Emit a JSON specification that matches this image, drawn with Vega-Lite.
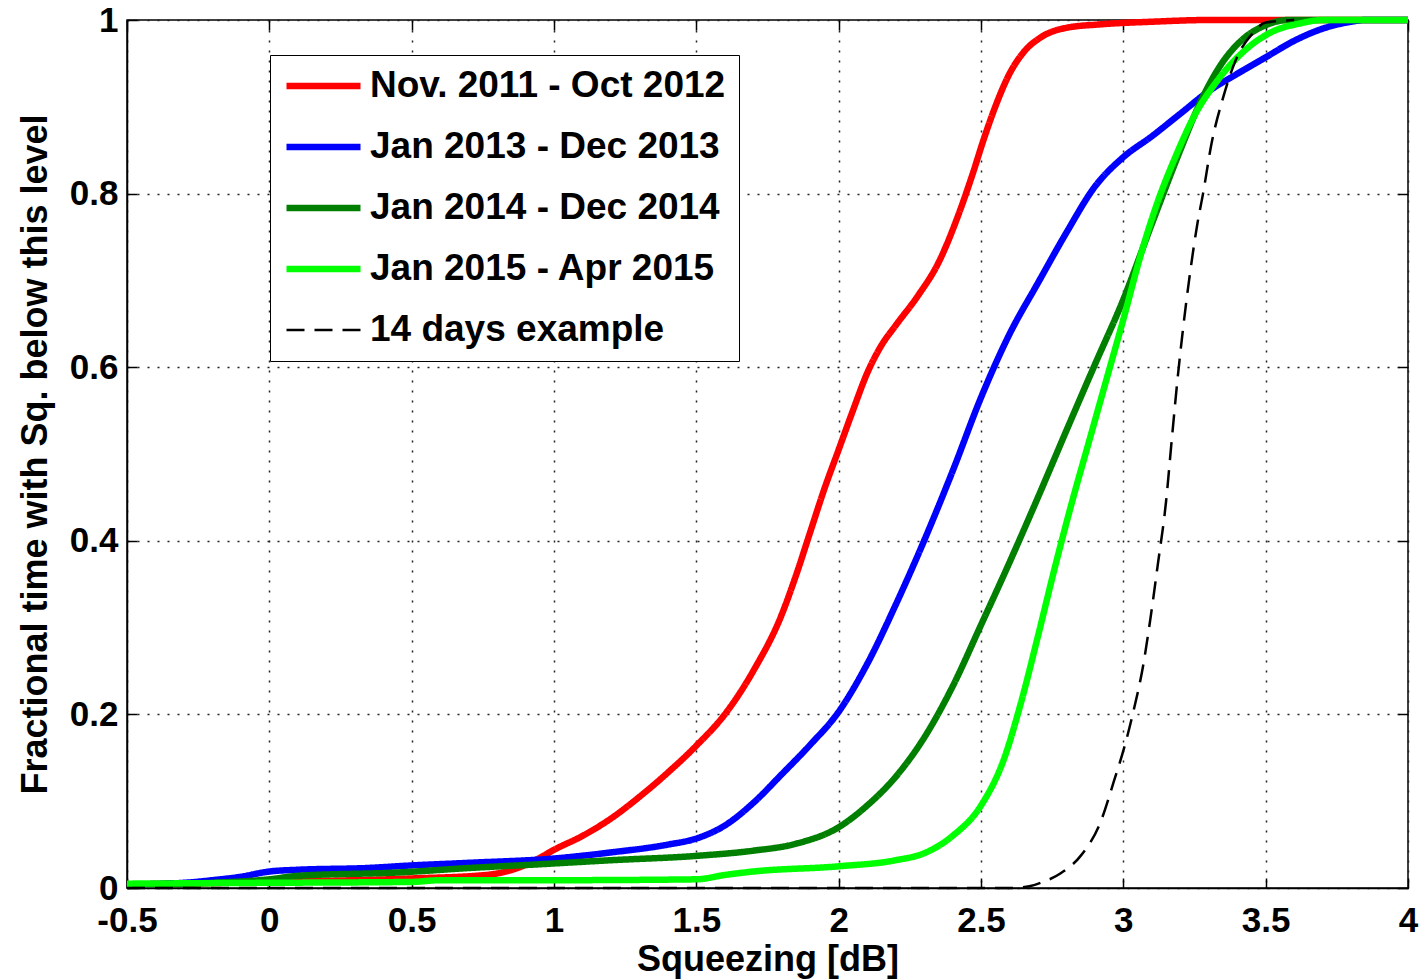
{
  "$schema": "https://vega.github.io/schema/vega-lite/v6.json",
  "width": 1281,
  "height": 868,
  "autosize": {"type": "none"},
  "padding": {"left": 127, "top": 20, "right": 18, "bottom": 92},
  "background": "white",
  "config": {
    "view": {"stroke": "black", "strokeWidth": 1.5},
    "font": "Liberation Sans",
    "axis": {
      "labelFont": "Liberation Sans",
      "labelFontSize": 35,
      "labelFontWeight": "bold",
      "labelColor": "black",
      "titleFont": "Liberation Sans",
      "titleFontSize": 36,
      "titleFontWeight": "bold",
      "titleColor": "black",
      "domainColor": "black",
      "domainWidth": 1.5,
      "tickColor": "black",
      "tickWidth": 1.5,
      "tickSize": -10,
      "gridColor": "#222222",
      "gridDash": [2, 8],
      "gridWidth": 1.5,
      "gridOpacity": 1,
      "labelFlush": false,
      "labelOverlap": false
    },
    "legend": {
      "labelFont": "Liberation Sans",
      "labelFontSize": 37,
      "labelFontWeight": "bold",
      "labelColor": "black",
      "labelLimit": 800,
      "labelOffset": 6,
      "symbolType": "stroke",
      "symbolSize": 5476,
      "clipHeight": 36,
      "strokeColor": "black",
      "fillColor": "white",
      "padding": 13,
      "rowPadding": 24
    }
  },
  "layer": [
    {
      "data": {
        "values": [
          {"s": "Nov. 2011 - Oct 2012", "x": -0.5, "y": 0.004},
          {"s": "Nov. 2011 - Oct 2012", "x": 0.0, "y": 0.007},
          {"s": "Nov. 2011 - Oct 2012", "x": 0.5, "y": 0.011},
          {"s": "Nov. 2011 - Oct 2012", "x": 0.76, "y": 0.015},
          {"s": "Nov. 2011 - Oct 2012", "x": 0.88, "y": 0.024},
          {"s": "Nov. 2011 - Oct 2012", "x": 0.946, "y": 0.034},
          {"s": "Nov. 2011 - Oct 2012", "x": 1.0, "y": 0.044},
          {"s": "Nov. 2011 - Oct 2012", "x": 1.1, "y": 0.06},
          {"s": "Nov. 2011 - Oct 2012", "x": 1.2, "y": 0.08},
          {"s": "Nov. 2011 - Oct 2012", "x": 1.3, "y": 0.105},
          {"s": "Nov. 2011 - Oct 2012", "x": 1.4, "y": 0.133},
          {"s": "Nov. 2011 - Oct 2012", "x": 1.5, "y": 0.164},
          {"s": "Nov. 2011 - Oct 2012", "x": 1.6, "y": 0.2},
          {"s": "Nov. 2011 - Oct 2012", "x": 1.7, "y": 0.25},
          {"s": "Nov. 2011 - Oct 2012", "x": 1.8, "y": 0.315},
          {"s": "Nov. 2011 - Oct 2012", "x": 1.85, "y": 0.36},
          {"s": "Nov. 2011 - Oct 2012", "x": 1.9, "y": 0.41},
          {"s": "Nov. 2011 - Oct 2012", "x": 1.95, "y": 0.46},
          {"s": "Nov. 2011 - Oct 2012", "x": 2.0, "y": 0.505},
          {"s": "Nov. 2011 - Oct 2012", "x": 2.05, "y": 0.55},
          {"s": "Nov. 2011 - Oct 2012", "x": 2.1, "y": 0.593},
          {"s": "Nov. 2011 - Oct 2012", "x": 2.15, "y": 0.625},
          {"s": "Nov. 2011 - Oct 2012", "x": 2.2, "y": 0.648},
          {"s": "Nov. 2011 - Oct 2012", "x": 2.28, "y": 0.683},
          {"s": "Nov. 2011 - Oct 2012", "x": 2.35, "y": 0.72},
          {"s": "Nov. 2011 - Oct 2012", "x": 2.42, "y": 0.775},
          {"s": "Nov. 2011 - Oct 2012", "x": 2.47, "y": 0.822},
          {"s": "Nov. 2011 - Oct 2012", "x": 2.51, "y": 0.863},
          {"s": "Nov. 2011 - Oct 2012", "x": 2.55, "y": 0.9},
          {"s": "Nov. 2011 - Oct 2012", "x": 2.6, "y": 0.938},
          {"s": "Nov. 2011 - Oct 2012", "x": 2.65, "y": 0.963},
          {"s": "Nov. 2011 - Oct 2012", "x": 2.71, "y": 0.98},
          {"s": "Nov. 2011 - Oct 2012", "x": 2.8, "y": 0.991},
          {"s": "Nov. 2011 - Oct 2012", "x": 2.92, "y": 0.995},
          {"s": "Nov. 2011 - Oct 2012", "x": 3.1, "y": 0.998},
          {"s": "Nov. 2011 - Oct 2012", "x": 3.3, "y": 1.0},
          {"s": "Nov. 2011 - Oct 2012", "x": 4.0, "y": 1.0},

          {"s": "Jan 2013 - Dec 2013", "x": -0.5, "y": 0.004},
          {"s": "Jan 2013 - Dec 2013", "x": -0.3, "y": 0.006},
          {"s": "Jan 2013 - Dec 2013", "x": -0.2, "y": 0.009},
          {"s": "Jan 2013 - Dec 2013", "x": -0.1, "y": 0.013},
          {"s": "Jan 2013 - Dec 2013", "x": 0.0, "y": 0.019},
          {"s": "Jan 2013 - Dec 2013", "x": 0.1, "y": 0.021},
          {"s": "Jan 2013 - Dec 2013", "x": 0.34, "y": 0.023},
          {"s": "Jan 2013 - Dec 2013", "x": 0.5, "y": 0.026},
          {"s": "Jan 2013 - Dec 2013", "x": 0.7, "y": 0.029},
          {"s": "Jan 2013 - Dec 2013", "x": 1.0, "y": 0.034},
          {"s": "Jan 2013 - Dec 2013", "x": 1.2, "y": 0.041},
          {"s": "Jan 2013 - Dec 2013", "x": 1.4, "y": 0.05},
          {"s": "Jan 2013 - Dec 2013", "x": 1.5, "y": 0.057},
          {"s": "Jan 2013 - Dec 2013", "x": 1.6, "y": 0.072},
          {"s": "Jan 2013 - Dec 2013", "x": 1.7, "y": 0.098},
          {"s": "Jan 2013 - Dec 2013", "x": 1.8, "y": 0.131},
          {"s": "Jan 2013 - Dec 2013", "x": 1.9, "y": 0.165},
          {"s": "Jan 2013 - Dec 2013", "x": 2.0, "y": 0.203},
          {"s": "Jan 2013 - Dec 2013", "x": 2.1, "y": 0.258},
          {"s": "Jan 2013 - Dec 2013", "x": 2.2, "y": 0.326},
          {"s": "Jan 2013 - Dec 2013", "x": 2.3, "y": 0.4},
          {"s": "Jan 2013 - Dec 2013", "x": 2.4, "y": 0.48},
          {"s": "Jan 2013 - Dec 2013", "x": 2.5, "y": 0.565},
          {"s": "Jan 2013 - Dec 2013", "x": 2.6, "y": 0.638},
          {"s": "Jan 2013 - Dec 2013", "x": 2.7, "y": 0.697},
          {"s": "Jan 2013 - Dec 2013", "x": 2.8, "y": 0.755},
          {"s": "Jan 2013 - Dec 2013", "x": 2.9, "y": 0.808},
          {"s": "Jan 2013 - Dec 2013", "x": 3.0, "y": 0.842},
          {"s": "Jan 2013 - Dec 2013", "x": 3.1, "y": 0.866},
          {"s": "Jan 2013 - Dec 2013", "x": 3.2, "y": 0.892},
          {"s": "Jan 2013 - Dec 2013", "x": 3.3, "y": 0.918},
          {"s": "Jan 2013 - Dec 2013", "x": 3.4, "y": 0.938},
          {"s": "Jan 2013 - Dec 2013", "x": 3.5, "y": 0.957},
          {"s": "Jan 2013 - Dec 2013", "x": 3.6, "y": 0.976},
          {"s": "Jan 2013 - Dec 2013", "x": 3.7, "y": 0.99},
          {"s": "Jan 2013 - Dec 2013", "x": 3.8, "y": 0.998},
          {"s": "Jan 2013 - Dec 2013", "x": 3.85, "y": 1.0},
          {"s": "Jan 2013 - Dec 2013", "x": 4.0, "y": 1.0},

          {"s": "Jan 2014 - Dec 2014", "x": -0.5, "y": 0.004},
          {"s": "Jan 2014 - Dec 2014", "x": -0.2, "y": 0.006},
          {"s": "Jan 2014 - Dec 2014", "x": 0.0, "y": 0.01},
          {"s": "Jan 2014 - Dec 2014", "x": 0.1, "y": 0.014},
          {"s": "Jan 2014 - Dec 2014", "x": 0.46, "y": 0.018},
          {"s": "Jan 2014 - Dec 2014", "x": 0.7, "y": 0.023},
          {"s": "Jan 2014 - Dec 2014", "x": 0.93, "y": 0.027},
          {"s": "Jan 2014 - Dec 2014", "x": 1.2, "y": 0.032},
          {"s": "Jan 2014 - Dec 2014", "x": 1.5, "y": 0.037},
          {"s": "Jan 2014 - Dec 2014", "x": 1.7, "y": 0.043},
          {"s": "Jan 2014 - Dec 2014", "x": 1.85, "y": 0.051},
          {"s": "Jan 2014 - Dec 2014", "x": 2.0, "y": 0.07},
          {"s": "Jan 2014 - Dec 2014", "x": 2.1, "y": 0.095},
          {"s": "Jan 2014 - Dec 2014", "x": 2.2, "y": 0.128},
          {"s": "Jan 2014 - Dec 2014", "x": 2.3, "y": 0.173},
          {"s": "Jan 2014 - Dec 2014", "x": 2.4, "y": 0.232},
          {"s": "Jan 2014 - Dec 2014", "x": 2.5, "y": 0.303},
          {"s": "Jan 2014 - Dec 2014", "x": 2.6, "y": 0.375},
          {"s": "Jan 2014 - Dec 2014", "x": 2.7, "y": 0.45},
          {"s": "Jan 2014 - Dec 2014", "x": 2.8, "y": 0.527},
          {"s": "Jan 2014 - Dec 2014", "x": 2.9, "y": 0.603},
          {"s": "Jan 2014 - Dec 2014", "x": 3.0, "y": 0.678},
          {"s": "Jan 2014 - Dec 2014", "x": 3.1, "y": 0.765},
          {"s": "Jan 2014 - Dec 2014", "x": 3.2, "y": 0.85},
          {"s": "Jan 2014 - Dec 2014", "x": 3.27, "y": 0.905},
          {"s": "Jan 2014 - Dec 2014", "x": 3.35, "y": 0.952},
          {"s": "Jan 2014 - Dec 2014", "x": 3.42, "y": 0.978},
          {"s": "Jan 2014 - Dec 2014", "x": 3.5, "y": 0.994},
          {"s": "Jan 2014 - Dec 2014", "x": 3.58, "y": 1.0},
          {"s": "Jan 2014 - Dec 2014", "x": 4.0, "y": 1.0},

          {"s": "Jan 2015 - Apr 2015", "x": -0.5, "y": 0.005},
          {"s": "Jan 2015 - Apr 2015", "x": 0.0, "y": 0.006},
          {"s": "Jan 2015 - Apr 2015", "x": 0.5, "y": 0.007},
          {"s": "Jan 2015 - Apr 2015", "x": 0.6, "y": 0.009},
          {"s": "Jan 2015 - Apr 2015", "x": 1.0, "y": 0.009},
          {"s": "Jan 2015 - Apr 2015", "x": 1.5, "y": 0.01},
          {"s": "Jan 2015 - Apr 2015", "x": 1.6, "y": 0.015},
          {"s": "Jan 2015 - Apr 2015", "x": 1.7, "y": 0.019},
          {"s": "Jan 2015 - Apr 2015", "x": 2.0, "y": 0.025},
          {"s": "Jan 2015 - Apr 2015", "x": 2.2, "y": 0.032},
          {"s": "Jan 2015 - Apr 2015", "x": 2.3, "y": 0.04},
          {"s": "Jan 2015 - Apr 2015", "x": 2.4, "y": 0.06},
          {"s": "Jan 2015 - Apr 2015", "x": 2.5, "y": 0.095},
          {"s": "Jan 2015 - Apr 2015", "x": 2.58, "y": 0.148},
          {"s": "Jan 2015 - Apr 2015", "x": 2.64, "y": 0.213},
          {"s": "Jan 2015 - Apr 2015", "x": 2.7, "y": 0.29},
          {"s": "Jan 2015 - Apr 2015", "x": 2.76, "y": 0.37},
          {"s": "Jan 2015 - Apr 2015", "x": 2.82, "y": 0.445},
          {"s": "Jan 2015 - Apr 2015", "x": 2.88, "y": 0.515},
          {"s": "Jan 2015 - Apr 2015", "x": 2.94, "y": 0.585},
          {"s": "Jan 2015 - Apr 2015", "x": 3.0, "y": 0.655},
          {"s": "Jan 2015 - Apr 2015", "x": 3.06, "y": 0.728},
          {"s": "Jan 2015 - Apr 2015", "x": 3.12, "y": 0.79},
          {"s": "Jan 2015 - Apr 2015", "x": 3.18, "y": 0.84},
          {"s": "Jan 2015 - Apr 2015", "x": 3.25, "y": 0.89},
          {"s": "Jan 2015 - Apr 2015", "x": 3.33, "y": 0.93},
          {"s": "Jan 2015 - Apr 2015", "x": 3.42, "y": 0.963},
          {"s": "Jan 2015 - Apr 2015", "x": 3.52, "y": 0.986},
          {"s": "Jan 2015 - Apr 2015", "x": 3.62, "y": 0.996},
          {"s": "Jan 2015 - Apr 2015", "x": 3.7, "y": 1.0},
          {"s": "Jan 2015 - Apr 2015", "x": 4.0, "y": 1.0},

          {"s": "14 days example", "x": -0.5, "y": 0.0},
          {"s": "14 days example", "x": 2.6, "y": 0.0},
          {"s": "14 days example", "x": 2.67, "y": 0.002},
          {"s": "14 days example", "x": 2.71, "y": 0.006},
          {"s": "14 days example", "x": 2.78, "y": 0.017},
          {"s": "14 days example", "x": 2.85, "y": 0.037},
          {"s": "14 days example", "x": 2.92, "y": 0.076},
          {"s": "14 days example", "x": 2.965, "y": 0.121},
          {"s": "14 days example", "x": 3.01, "y": 0.17},
          {"s": "14 days example", "x": 3.035, "y": 0.203},
          {"s": "14 days example", "x": 3.07, "y": 0.257},
          {"s": "14 days example", "x": 3.095, "y": 0.31},
          {"s": "14 days example", "x": 3.12, "y": 0.37},
          {"s": "14 days example", "x": 3.15, "y": 0.445},
          {"s": "14 days example", "x": 3.17, "y": 0.516},
          {"s": "14 days example", "x": 3.19, "y": 0.585},
          {"s": "14 days example", "x": 3.21, "y": 0.645},
          {"s": "14 days example", "x": 3.235, "y": 0.71},
          {"s": "14 days example", "x": 3.26, "y": 0.765},
          {"s": "14 days example", "x": 3.28, "y": 0.8},
          {"s": "14 days example", "x": 3.31, "y": 0.858},
          {"s": "14 days example", "x": 3.35, "y": 0.91},
          {"s": "14 days example", "x": 3.395, "y": 0.954},
          {"s": "14 days example", "x": 3.455, "y": 0.985},
          {"s": "14 days example", "x": 3.5, "y": 0.997},
          {"s": "14 days example", "x": 3.6, "y": 1.0}
        ]
      },
      "mark": {"type": "line", "interpolate": "monotone", "strokeCap": "butt", "strokeJoin": "round"},
      "encoding": {
        "x": {
          "field": "x",
          "type": "quantitative",
          "scale": {"domain": [-0.5, 4], "nice": false, "zero": false},
          "axis": {
            "orient": "bottom",
            "values": [-0.5, 0, 0.5, 1, 1.5, 2, 2.5, 3, 3.5, 4],
            "labelExpr": "'' + datum.value",
            "labelPadding": 25,
            "grid": true,
            "title": "Squeezing [dB]",
            "titleY": 82,
            "titleBaseline": "alphabetic"
          }
        },
        "y": {
          "field": "y",
          "type": "quantitative",
          "scale": {"domain": [0, 1], "nice": false, "zero": false},
          "axis": {
            "orient": "left",
            "values": [0, 0.2, 0.4, 0.6, 0.8, 1],
            "labelExpr": "'' + datum.value",
            "labelPadding": 19,
            "grid": true,
            "title": "Fractional time with Sq. below this level",
            "titleX": -81,
            "titleY": 434,
            "titleAngle": -90,
            "titleAlign": "center",
            "titleBaseline": "alphabetic"
          }
        },
        "color": {
          "field": "s",
          "type": "nominal",
          "scale": {
            "domain": ["Nov. 2011 - Oct 2012", "Jan 2013 - Dec 2013", "Jan 2014 - Dec 2014", "Jan 2015 - Apr 2015", "14 days example"],
            "range": ["#ff0000", "#0000ff", "#007f00", "#00ff00", "#000000"]
          },
          "legend": {"title": null, "orient": "none", "legendX": 143, "legendY": 35}
        },
        "strokeDash": {
          "field": "s",
          "type": "nominal",
          "scale": {
            "domain": ["Nov. 2011 - Oct 2012", "Jan 2013 - Dec 2013", "Jan 2014 - Dec 2014", "Jan 2015 - Apr 2015", "14 days example"],
            "range": [[1, 0], [1, 0], [1, 0], [1, 0], [18, 10]]
          },
          "legend": {"title": null, "orient": "none", "legendX": 143, "legendY": 35}
        },
        "strokeWidth": {
          "field": "s",
          "type": "nominal",
          "scale": {
            "type": "ordinal",
            "domain": ["Nov. 2011 - Oct 2012", "Jan 2013 - Dec 2013", "Jan 2014 - Dec 2014", "Jan 2015 - Apr 2015", "14 days example"],
            "range": [6.5, 6.5, 6.5, 6.5, 2.5]
          },
          "legend": {"title": null, "orient": "none", "legendX": 143, "legendY": 35}
        }
      }
    },
    {
      "data": {"values": [{"x": -0.5, "y": 0}, {"x": 4, "y": 1}]},
      "mark": {"type": "point", "opacity": 0},
      "encoding": {
        "x": {
          "field": "x",
          "type": "quantitative",
          "scale": {"domain": [-0.5, 4], "nice": false, "zero": false},
          "axis": {
            "orient": "top",
            "values": [-0.5, 0, 0.5, 1, 1.5, 2, 2.5, 3, 3.5, 4],
            "labels": false,
            "grid": false,
            "domain": false,
            "title": null
          }
        },
        "y": {
          "field": "y",
          "type": "quantitative",
          "scale": {"domain": [0, 1], "nice": false, "zero": false},
          "axis": {
            "orient": "right",
            "values": [0, 0.2, 0.4, 0.6, 0.8, 1],
            "labels": false,
            "grid": false,
            "domain": false,
            "title": null
          }
        }
      }
    }
  ],
  "resolve": {"axis": {"x": "independent", "y": "independent"}}
}
